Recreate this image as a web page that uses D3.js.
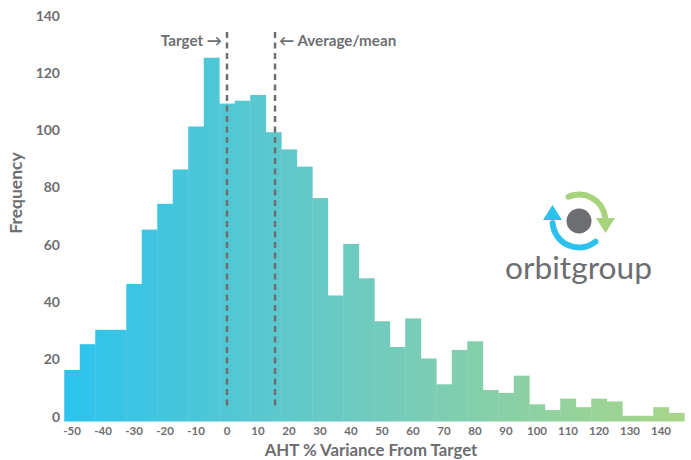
<!DOCTYPE html>
<html><head><meta charset="utf-8">
<script src="https://cdn.jsdelivr.net/npm/d3@7"></script>
<style>
html,body{margin:0;padding:0;background:#fff;}
svg{display:block;}
</style></head>
<body>
<svg id="chart" width="691" height="460"></svg>
<script>
// Histogram bin centres (AHT % variance from target, bin width 5)
const binCenters = [-50,-45,-40,-35,-30,-25,-20,-15,-10,-5,0,5,10,15,20,25,30,35,40,45,50,55,60,65,70,75,80,85,90,95,100,105,110,115,120,125,130,135,140,145];
const frequencies = [18,27,32,32,48,67,76,88,103,127,111,112,114,101,95,89,78,44,62,50,35,26,36,22,13,25,28,11,10,16,6,4,8,5,8,7,2,2,5,3];
const binWidth = 5;
const xTicks = [-50,-40,-30,-20,-10,0,10,20,30,40,50,60,70,80,90,100,110,120,130,140];
const yTicks = [0,20,40,60,80,100,120,140];
const targetValue = 0;
const meanValue = 15.5;
const xTitle = "AHT % Variance From Target";
const yTitle = "Frequency";

const svg = d3.select("#chart");
const grey = "#6d6e71";
const font = "Lato, 'Open Sans', sans-serif";

const x = d3.scaleLinear().domain([-52.5, 147.5]).range([64.25, 684.25]);
const y = d3.scaleLinear().domain([0, 140]).range([421.5, 20.5]);

// gradient
const defs = svg.append("defs");
const grad = defs.append("linearGradient").attr("id","barGrad")
  .attr("gradientUnits","userSpaceOnUse")
  .attr("x1", x(-52.5)).attr("x2", x(147.5)).attr("y1",0).attr("y2",0);
grad.append("stop").attr("offset","0%").attr("stop-color","#2bc3ee");
grad.append("stop").attr("offset","45%").attr("stop-color","#6bcac2");
grad.append("stop").attr("offset","100%").attr("stop-color","#a8d688");

// bars
svg.append("g").selectAll("rect").data(binCenters).join("rect")
  .attr("x", (d) => x(d - binWidth/2))
  .attr("width", (d) => x(d + binWidth/2) - x(d - binWidth/2) + 0.4)
  .attr("y", (d,i) => y(frequencies[i]))
  .attr("height", (d,i) => y(0) - y(frequencies[i]))
  .attr("fill", "url(#barGrad)");

// y axis labels
svg.append("g").selectAll("text").data(yTicks).join("text")
  .attr("x", 60).attr("y", d => y(d) - 3.5)
  .attr("text-anchor","end").attr("dominant-baseline","middle")
  .attr("font-family", font).attr("font-weight", 700).attr("font-size", 14)
  .attr("fill", grey).text(d => d);

// x axis labels
svg.append("g").selectAll("text").data(xTicks).join("text")
  .attr("x", d => x(d)).attr("y", 432)
  .attr("text-anchor","middle").attr("dominant-baseline","middle")
  .attr("font-family", font).attr("font-weight", 700).attr("font-size", 11.5)
  .attr("fill", grey).text(d => d);

// axis titles
svg.append("text").attr("x", 371).attr("y", 452)
  .attr("text-anchor","middle").attr("dominant-baseline","middle")
  .attr("font-family", font).attr("font-weight", 700).attr("font-size", 16.8)
  .attr("fill", grey).text(xTitle);
svg.append("text").attr("transform","translate(18,193) rotate(-90)")
  .attr("text-anchor","middle").attr("dominant-baseline","middle")
  .attr("font-family", font).attr("font-weight", 700).attr("font-size", 17.5)
  .attr("fill", grey).text(yTitle);

// dashed reference lines
[targetValue, meanValue].forEach(v => {
  svg.append("line").attr("x1", x(v)).attr("x2", x(v))
    .attr("y1", 32).attr("y2", 410)
    .attr("stroke", grey).attr("stroke-width", 2.5)
    .attr("stroke-dasharray", "6,4.5");
});
svg.append("text").attr("x", x(targetValue) - 5).attr("y", 42)
  .attr("text-anchor","end").attr("dominant-baseline","middle")
  .attr("font-family", font).attr("font-weight", 700).attr("font-size", 15.2)
  .attr("fill", grey).text("Target \u2192");
svg.append("text").attr("x", x(meanValue) + 4).attr("y", 42)
  .attr("text-anchor","start").attr("dominant-baseline","middle")
  .attr("font-family", font).attr("font-weight", 700).attr("font-size", 15.2)
  .attr("fill", grey).text("\u2190 Average/mean");

// logo
const logo = svg.append("g").attr("transform","translate(579,221)");
const deg = Math.PI/180;
const arc = d3.arc().innerRadius(23.5).outerRadius(29.5).cornerRadius(3);
logo.append("path").attr("d", arc({startAngle:-30*deg, endAngle:88*deg})).attr("fill","#a7d37c");
logo.append("path").attr("d", arc({startAngle:135*deg, endAngle:272*deg})).attr("fill","#2cc1ed");
logo.append("path").attr("d", "M17,-3 L36,-3 L26.5,12 Z").attr("fill","#a7d37c");
logo.append("path").attr("d", "M-36,-1 L-17,-1 L-26.5,-16 Z").attr("fill","#2cc1ed");
logo.append("circle").attr("r", 12.5).attr("fill", grey);
svg.append("text").attr("x", 505).attr("y", 279)
  .attr("font-family", font).attr("font-weight", 400).attr("font-size", 31)
  .attr("textLength", 147).attr("lengthAdjust","spacingAndGlyphs")
  .attr("fill", grey).text("orbitgroup");
</script>
</body></html>
